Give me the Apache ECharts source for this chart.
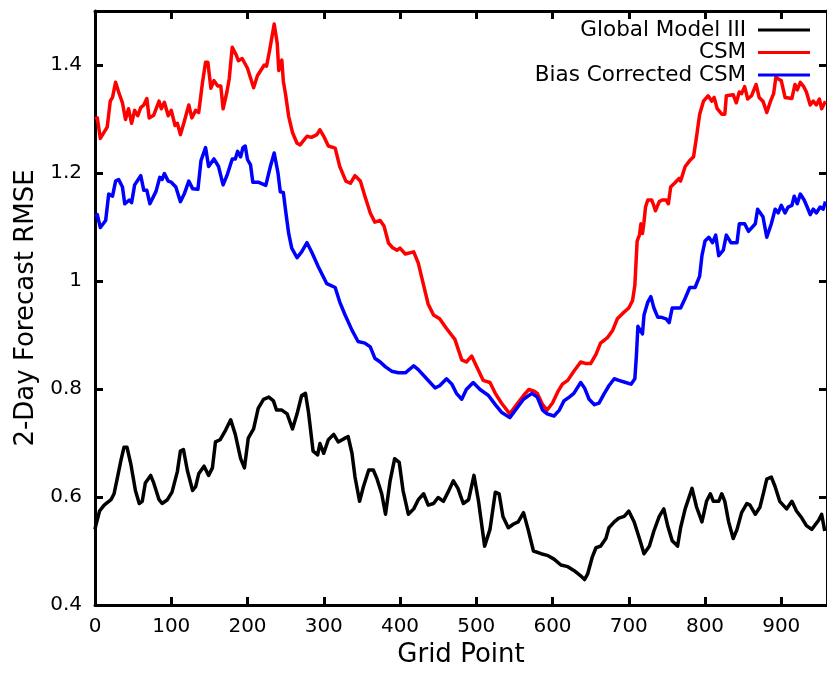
<!DOCTYPE html>
<html>
<head>
<meta charset="utf-8">
<script src="https://cdn.jsdelivr.net/npm/echarts@6/dist/echarts.min.js"></script>
<style>
  html, body { margin: 0; padding: 0; background: #ffffff; }
  #chart { width: 827px; height: 673px; }
</style>
</head>
<body>
<div id="chart"></div>
<script>
// Global Model III: grid point index and 2-day forecast RMSE
const gm3Points = [0,1,6,12,21,25,29,34,38,42,47,53,58,62,66,73,77,84,88,95,101,108,112,116,121,128,132,136,143,149,154,158,164,171,178,184,191,196,201,208,214,221,228,234,238,245,252,259,265,271,276,280,286,292,295,300,306,313,319,328,332,337,341,347,352,359,365,370,376,381,387,393,399,404,411,418,424,431,437,444,450,457,463,470,476,483,490,497,503,511,518,525,530,535,542,549,555,562,568,575,585,593,602,611,620,628,637,642,646,652,657,663,670,674,681,687,694,700,707,714,720,727,733,740,746,751,757,764,768,774,783,789,796,802,807,811,818,822,826,831,837,842,848,855,859,866,872,877,881,887,892,898,907,914,920,927,933,940,949,953,957];
const gm3Rmse = [0.540,0.547,0.574,0.585,0.595,0.606,0.633,0.668,0.692,0.692,0.661,0.612,0.588,0.592,0.626,0.640,0.626,0.595,0.588,0.595,0.609,0.647,0.685,0.688,0.650,0.612,0.619,0.643,0.657,0.640,0.654,0.702,0.706,0.723,0.743,0.716,0.671,0.654,0.709,0.726,0.764,0.781,0.785,0.778,0.761,0.761,0.754,0.726,0.754,0.788,0.792,0.757,0.685,0.678,0.699,0.681,0.706,0.716,0.702,0.709,0.712,0.681,0.637,0.592,0.619,0.650,0.650,0.633,0.606,0.568,0.630,0.671,0.664,0.612,0.568,0.578,0.595,0.606,0.585,0.588,0.599,0.592,0.609,0.630,0.616,0.588,0.595,0.640,0.592,0.509,0.540,0.609,0.606,0.564,0.543,0.550,0.554,0.571,0.540,0.500,0.495,0.492,0.485,0.474,0.471,0.464,0.454,0.447,0.457,0.488,0.506,0.509,0.523,0.543,0.554,0.561,0.564,0.574,0.554,0.523,0.495,0.509,0.537,0.564,0.578,0.547,0.519,0.509,0.543,0.578,0.616,0.581,0.554,0.592,0.606,0.592,0.592,0.606,0.592,0.554,0.523,0.540,0.571,0.588,0.585,0.568,0.581,0.609,0.633,0.637,0.619,0.592,0.578,0.592,0.574,0.561,0.547,0.540,0.557,0.568,0.537];

// CSM
const csmPoints = [0,3,7,16,20,23,27,31,36,40,44,48,52,56,60,64,68,71,77,84,87,91,96,100,105,108,112,117,123,127,132,136,141,145,148,152,156,161,165,168,173,176,180,185,188,193,200,208,213,222,225,229,235,239,241,245,247,250,254,259,265,269,278,284,291,295,300,306,315,321,329,335,341,348,354,361,367,374,379,385,390,396,400,407,418,424,431,437,444,452,461,472,481,487,494,500,509,518,525,533,544,553,562,569,576,580,587,593,600,607,613,620,628,637,644,650,657,663,672,679,685,692,700,705,708,711,714,716,718,720,722,725,730,732,735,740,744,749,752,755,760,766,768,774,780,785,789,793,798,804,809,812,816,822,826,828,837,841,845,848,852,856,861,867,871,876,881,886,890,893,896,900,905,914,918,921,925,929,933,938,942,946,950,953,958];
const csmRmse = [1.300,1.302,1.264,1.285,1.333,1.340,1.368,1.350,1.330,1.299,1.319,1.292,1.316,1.306,1.321,1.326,1.338,1.302,1.307,1.333,1.319,1.331,1.306,1.316,1.288,1.292,1.271,1.295,1.326,1.302,1.316,1.312,1.368,1.405,1.405,1.357,1.371,1.361,1.361,1.319,1.350,1.374,1.433,1.419,1.408,1.412,1.394,1.358,1.380,1.400,1.398,1.427,1.476,1.440,1.390,1.409,1.370,1.345,1.305,1.275,1.255,1.252,1.268,1.266,1.271,1.280,1.268,1.250,1.246,1.212,1.185,1.181,1.195,1.185,1.157,1.126,1.109,1.112,1.102,1.070,1.062,1.057,1.061,1.050,1.054,1.033,0.992,0.957,0.937,0.930,0.912,0.892,0.854,0.850,0.861,0.843,0.816,0.812,0.792,0.774,0.754,0.771,0.788,0.799,0.796,0.792,0.771,0.761,0.774,0.795,0.809,0.816,0.833,0.850,0.847,0.847,0.864,0.885,0.895,0.909,0.930,0.940,0.950,0.964,0.992,1.074,1.085,1.106,1.088,1.109,1.137,1.150,1.150,1.143,1.130,1.147,1.150,1.150,1.143,1.174,1.181,1.190,1.185,1.212,1.223,1.230,1.268,1.309,1.333,1.343,1.333,1.340,1.319,1.309,1.309,1.343,1.345,1.330,1.350,1.347,1.360,1.337,1.343,1.364,1.340,1.333,1.312,1.333,1.347,1.378,1.374,1.371,1.340,1.338,1.364,1.354,1.368,1.361,1.350,1.326,1.333,1.326,1.337,1.319,1.333];

// Bias Corrected CSM
const bcPoints = [0,3,7,14,18,23,27,31,36,39,45,48,52,60,64,68,72,80,85,88,91,96,100,106,112,117,123,128,135,139,145,149,156,162,168,173,180,184,187,191,194,197,200,204,207,214,224,230,235,240,243,247,250,254,258,265,271,278,284,293,304,315,321,328,337,345,354,361,367,374,381,389,398,407,418,424,435,446,452,461,468,474,481,487,496,505,516,525,533,544,553,562,573,580,587,593,602,609,615,622,628,637,642,648,655,661,668,674,681,687,696,703,708,710,712,715,718,720,725,729,733,738,742,749,753,757,764,768,774,780,787,793,796,800,805,810,814,818,824,828,834,842,845,852,857,866,869,876,881,887,892,896,900,905,909,914,917,921,925,930,934,938,942,946,951,955,958];
const bcRmse = [1.120,1.123,1.099,1.112,1.161,1.157,1.185,1.188,1.174,1.143,1.150,1.145,1.178,1.195,1.168,1.168,1.143,1.166,1.192,1.188,1.199,1.185,1.183,1.174,1.147,1.161,1.185,1.171,1.170,1.223,1.247,1.212,1.226,1.212,1.178,1.195,1.226,1.226,1.240,1.230,1.247,1.250,1.225,1.215,1.183,1.183,1.177,1.212,1.237,1.200,1.165,1.164,1.130,1.088,1.061,1.043,1.054,1.071,1.054,1.026,0.995,0.988,0.961,0.937,0.909,0.888,0.885,0.878,0.857,0.850,0.841,0.833,0.830,0.830,0.843,0.836,0.819,0.802,0.806,0.819,0.809,0.792,0.781,0.799,0.812,0.799,0.788,0.771,0.757,0.747,0.764,0.781,0.792,0.785,0.761,0.754,0.750,0.761,0.778,0.785,0.792,0.812,0.802,0.781,0.771,0.774,0.792,0.806,0.819,0.816,0.812,0.809,0.819,0.861,0.916,0.909,0.902,0.937,0.961,0.971,0.950,0.933,0.933,0.930,0.923,0.950,0.950,0.950,0.968,0.988,0.988,1.009,1.047,1.074,1.081,1.071,1.085,1.047,1.057,1.085,1.071,1.071,1.106,1.106,1.092,1.106,1.133,1.119,1.081,1.106,1.133,1.126,1.140,1.126,1.137,1.140,1.157,1.143,1.161,1.150,1.137,1.123,1.133,1.126,1.137,1.133,1.147];

const seriesNames = ['Global Model III', 'CSM', 'Bias Corrected CSM'];
const seriesColors = ['#000000', '#ff0000', '#0000ff'];

const pair = (xs, ys) => xs.map((x, i) => [x, ys[i]]);
const seriesData = [pair(gm3Points, gm3Rmse), pair(csmPoints, csmRmse), pair(bcPoints, bcRmse)];

const FONT = 'DejaVu Sans';
const axisLineStyle = { color: '#000', width: 3 };
const tickStyle = { show: true, inside: true, length: 8, lineStyle: { color: '#000', width: 3 } };

const xBase = { type: 'value', min: 0, max: 960, interval: 100, splitLine: { show: false },
  axisLine: { show: true, onZero: false, lineStyle: axisLineStyle }, axisTick: tickStyle };
const yBase = { type: 'value', min: 0.4, max: 1.5, interval: 0.2, splitLine: { show: false },
  axisLine: { show: true, onZero: false, lineStyle: axisLineStyle }, axisTick: tickStyle };

const chart = echarts.init(document.getElementById('chart'), null, { renderer: 'canvas' });
chart.setOption({
  animation: false,
  backgroundColor: '#ffffff',
  textStyle: { fontFamily: FONT, color: '#000' },
  grid: { left: 95, top: 11, width: 733, height: 600, containLabel: false },
  xAxis: [
    Object.assign({}, xBase, {
      position: 'bottom',
      name: 'Grid Point', nameLocation: 'middle', nameGap: 37,
      nameTextStyle: { fontFamily: FONT, fontSize: 26, color: '#000' },
      axisLabel: { show: true, margin: 12, fontFamily: FONT, fontSize: 20, color: '#000', showMaxLabel: false }
    }),
    Object.assign({}, xBase, { position: 'top', axisLabel: { show: false } })
  ],
  yAxis: [
    Object.assign({}, yBase, {
      position: 'left',
      name: '2-Day Forecast RMSE', nameLocation: 'middle', nameGap: 52,
      nameTextStyle: { fontFamily: FONT, fontSize: 26, color: '#000' },
      axisLabel: { show: true, margin: 13, fontFamily: FONT, fontSize: 20, color: '#000', showMaxLabel: false }
    }),
    Object.assign({}, yBase, { position: 'right', axisLabel: { show: false } })
  ],
  legend: seriesNames.map((name, i) => ({
    data: [name],
    orient: 'vertical',
    align: 'right',
    right: 17,
    top: 19 + i * 22.5,
    padding: 0,
    icon: 'rect',
    itemWidth: 52,
    itemHeight: 3,
    selectedMode: false,
    formatter: n => n + ' ',
    textStyle: { fontFamily: FONT, fontSize: 21.5, color: '#000', lineHeight: 22 }
  })),
  series: seriesNames.map((name, i) => ({
    name,
    type: 'line',
    xAxisIndex: 0,
    yAxisIndex: 0,
    data: seriesData[i],
    symbol: 'none',
    color: seriesColors[i],
    lineStyle: { color: seriesColors[i], width: 3.5, join: 'round' },
    itemStyle: { color: seriesColors[i] },
    clip: true
  }))
});
</script>
</body>
</html>
